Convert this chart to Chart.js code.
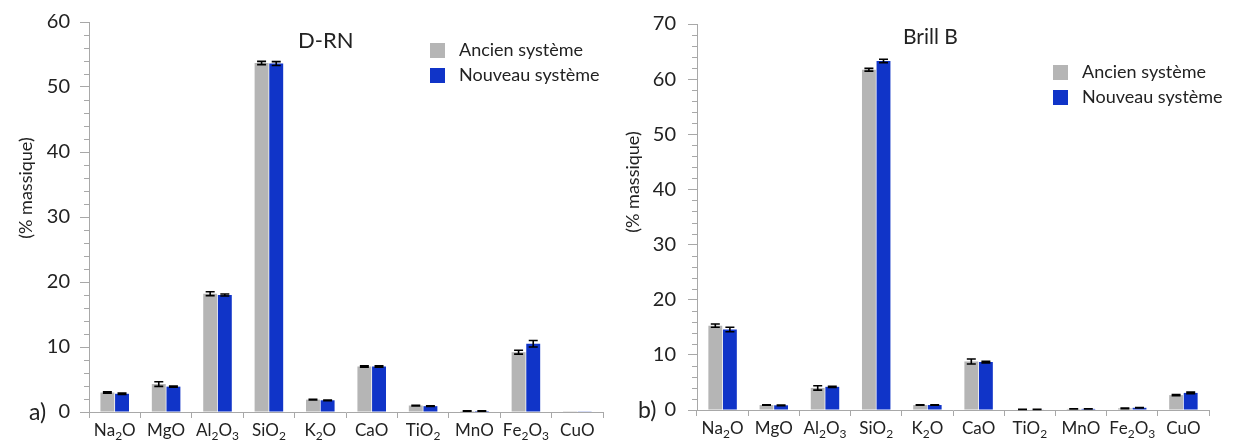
<!DOCTYPE html>
<html>
<head>
<meta charset="utf-8">
<script src="https://cdn.jsdelivr.net/npm/chart.js@4.4.1/dist/chart.umd.min.js"></script>
<style>
    body { margin: 0; background: #fff; width: 1250px; height: 443px; position: relative; overflow: hidden; font-family: Lato, sans-serif; color: #222; }
    canvas { position: absolute; top: 0; }
    #c1 { left: 0; }
    #c2 { left: 620px; }
    .txt { position: absolute; white-space: nowrap; line-height: 1; }
    .ytitle { position: absolute; white-space: nowrap; line-height: 1; font-size: 18px; transform: translate(-50%, -50%) rotate(-90deg); }
    .leg { position: absolute; font-size: 18px; line-height: 25px; white-space: nowrap; }
    .sw { display: inline-block; width: 15px; height: 15px; margin-right: 14px; vertical-align: -2px; }
</style>
</head>
<body>
<canvas id="c1" width="620" height="443"></canvas>
<canvas id="c2" width="630" height="443"></canvas>
<div class="txt" style="left:29px;top:400px;font-size:23px">a)</div>
<div class="txt" style="left:638px;top:398px;font-size:23px">b)</div>
<div class="txt" style="left:298px;top:29px;font-size:22px">D-RN</div>
<div class="txt" style="left:903px;top:25px;font-size:21px">Brill B</div>
<div class="ytitle" style="left:25px;top:188px">(% massique)</div>
<div class="ytitle" style="left:632px;top:182px">(% massique)</div>
<div class="leg" id="leg1" style="left:430px;top:37px"></div>
<div class="leg" id="leg2" style="left:1053px;top:59px"></div>
<script>
const oxides = ['Na₂O', 'MgO', 'Al₂O₃', 'SiO₂', 'K₂O', 'CaO', 'TiO₂', 'MnO', 'Fe₂O₃', 'CuO'];
const seriesNames = ['Ancien système', 'Nouveau système'];
const seriesColors = ['#b5b5b5', '#1034c8'];

// D-RN
const drnAncien = [3.0, 4.3, 18.2, 53.7, 1.9, 7.0, 1.0, 0.15, 9.2, 0.03];
const drnNouveau = [2.8, 3.9, 18.0, 53.6, 1.8, 7.0, 0.9, 0.15, 10.5, 0.05];
const drnAncienErr = [0.1, 0.35, 0.3, 0.25, 0.05, 0.1, 0.05, 0.02, 0.3, 0];
const drnNouveauErr = [0.1, 0.1, 0.15, 0.3, 0.05, 0.1, 0.05, 0.02, 0.5, 0];

// Brill B
const brillAncien = [15.3, 0.9, 4.0, 61.7, 0.9, 8.8, 0.1, 0.2, 0.3, 2.7];
const brillNouveau = [14.6, 0.85, 4.2, 63.3, 0.9, 8.7, 0.1, 0.2, 0.4, 3.1];
const brillAncienErr = [0.3, 0.05, 0.4, 0.25, 0.05, 0.45, 0.02, 0.02, 0.05, 0.1];
const brillNouveauErr = [0.4, 0.05, 0.1, 0.3, 0.05, 0.15, 0.02, 0.02, 0.05, 0.15];

const axisColor = '#a8a8a8';
const textColor = '#222';

// error bars drawn from each dataset's "errors" array
const errorBars = {
    id: 'errorBars',
    afterDatasetsDraw(chart) {
        const ctx = chart.ctx;
        const y = chart.scales.y;
        ctx.save();
        ctx.strokeStyle = '#000';
        ctx.lineWidth = 1.6;
        chart.data.datasets.forEach((ds, d) => {
            const meta = chart.getDatasetMeta(d);
            meta.data.forEach((bar, i) => {
                const v = ds.data[i];
                const e = ds.errors[i];
                if (v < 0.1) return;
                const top = y.getPixelForValue(v + e);
                const bot = y.getPixelForValue(v - e);
                const hw = 4.5;
                ctx.beginPath();
                ctx.moveTo(bar.x, top); ctx.lineTo(bar.x, bot);
                ctx.moveTo(bar.x - hw, top); ctx.lineTo(bar.x + hw, top);
                ctx.moveTo(bar.x - hw, bot); ctx.lineTo(bar.x + hw, bot);
                ctx.stroke();
            });
        });
        ctx.restore();
    }
};

// minor ticks every 2 units + category labels with subscripts
const extras = {
    id: 'extras',
    afterDraw(chart) {
        const ctx = chart.ctx;
        const y = chart.scales.y;
        const x = chart.scales.x;
        ctx.save();
        ctx.strokeStyle = axisColor;
        ctx.lineWidth = 1;
        for (let v = 0; v <= y.max; v += 2) {
            if (v % 10 === 0) continue;
            const py = Math.round(y.getPixelForValue(v)) + 0.5;
            ctx.beginPath();
            ctx.moveTo(y.right - 5, py);
            ctx.lineTo(y.right, py);
            ctx.stroke();
        }
        ctx.fillStyle = textColor;
        ctx.textBaseline = 'alphabetic';
        chart.data.labels.forEach((lab, i) => {
            const cx = x.getPixelForTick(i);
            const parts = [];
            for (const ch of lab) {
                const sub = '₀₁₂₃₄₅₆₇₈₉'.indexOf(ch);
                parts.push(sub >= 0 ? { t: String(sub), s: true } : { t: ch, s: false });
            }
            let w = 0;
            parts.forEach(p => {
                ctx.font = (p.s ? '12px' : '17px') + ' Lato, sans-serif';
                p.w = ctx.measureText(p.t).width;
                w += p.w;
            });
            let px = cx - w / 2;
            const base = x.top + 24;
            parts.forEach(p => {
                ctx.font = (p.s ? '12px' : '17px') + ' Lato, sans-serif';
                ctx.fillText(p.t, px, p.s ? base + 4 : base);
                px += p.w;
            });
        });
        ctx.restore();
    }
};

function makeChart(id, a, b, aErr, bErr, max, geo) {
    return new Chart(document.getElementById(id), {
        type: 'bar',
        data: {
            labels: oxides,
            datasets: [
                { label: seriesNames[0], data: a, errors: aErr, backgroundColor: seriesColors[0], borderWidth: 0 },
                { label: seriesNames[1], data: b, errors: bErr, backgroundColor: seriesColors[1], borderWidth: 0 }
            ]
        },
        options: {
            responsive: false,
            animation: false,
            events: [],
            categoryPercentage: 0.57,
            barPercentage: 0.95,
            layout: { padding: { left: 0, right: geo.padRight, top: geo.padTop, bottom: 0 } },
            scales: {
                x: {
                    grid: { display: true, drawOnChartArea: false, color: axisColor, tickLength: 6, offset: true },
                    border: { color: axisColor },
                    ticks: { color: 'rgba(0,0,0,0)', font: { family: 'Lato', size: 17 } },
                    afterFit(s) { s.height = geo.xHeight; }
                },
                y: {
                    min: 0,
                    max: max,
                    ticks: { stepSize: 10, color: textColor, padding: geo.tickPad, font: { family: 'Lato', size: 20 } },
                    grid: { display: true, drawOnChartArea: false, color: axisColor, tickLength: 9 },
                    border: { color: axisColor },
                    afterFit(s) { s.width = geo.yWidth; }
                }
            },
            plugins: {
                legend: { display: false },
                tooltip: { enabled: false }
            }
        },
        plugins: [errorBars, extras]
    });
}

makeChart('c1', drnAncien, drnNouveau, drnAncienErr, drnNouveauErr, 60,
    { yWidth: 89, padRight: 17, padTop: 16, xHeight: 31, tickPad: 10, titlePad: 15 });
makeChart('c2', brillAncien, brillNouveau, brillAncienErr, brillNouveauErr, 70,
    { yWidth: 77, padRight: 41, padTop: 14, xHeight: 33, tickPad: 12, titlePad: 1 });

['leg1', 'leg2'].forEach(id => {
    document.getElementById(id).innerHTML = seriesNames.map((n, i) =>
        '<div><span class="sw" style="background:' + seriesColors[i] + '"></span>' + n + '</div>').join('');
});
</script>
</body>
</html>
